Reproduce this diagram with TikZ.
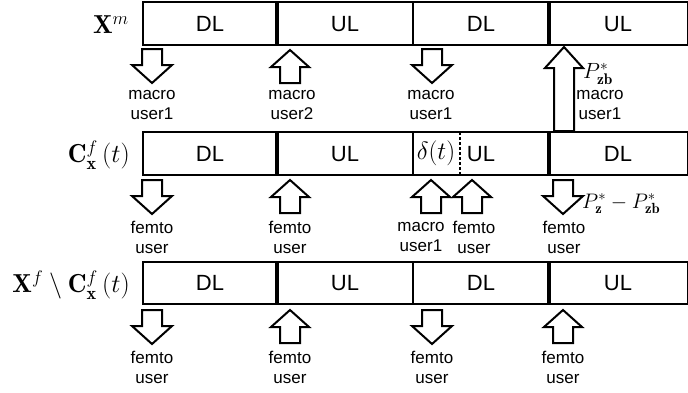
\RequirePackage{fix-cm}
\documentclass[tikz,border=0pt]{standalone}
\usepackage{fontspec}
\setsansfont{Liberation Sans}
\begin{document}
\begin{tikzpicture}[x=1pt,y=-1pt,
  frame/.style={line width=2.2pt},
  thickdiv/.style={line width=3.2pt},
  thindiv/.style={line width=1.6pt},
  dashdiv/.style={line width=2pt,dash pattern=on 3pt off 2pt},
  arrowline/.style={draw=black,fill=white,line width=2pt,line join=miter},
  cell/.style={font=\sffamily\fontsize{22}{26}\selectfont,inner sep=0pt},
  lbl/.style={font=\sffamily\fontsize{17}{20}\selectfont,align=center,inner sep=0pt},
  rowlbl/.style={font=\fontsize{26}{30}\selectfont,anchor=east,inner sep=0pt},
  plbl/.style={font=\fontsize{22}{26}\selectfont,anchor=west,inner sep=0pt},
  darr/.pic={\draw[arrowline] (-10,0) -- (10,0) -- (10,16) -- (20,16) -- (0,34) -- (-20,16) -- (-10,16) -- cycle;},
  uarr/.pic={\draw[arrowline] (0,0) -- (19,17) -- (10,17) -- (10,33) -- (-10,33) -- (-10,17) -- (-19,17) -- cycle;},
  bigarr/.pic={\draw[arrowline] (0,0) -- (19,21) -- (10,21) -- (10,84) -- (-10,84) -- (-10,21) -- (-19,21) -- cycle;}
]
\useasboundingbox (0,0) rectangle (688,392);

% ---------- row 1 ----------
\draw[frame] (143,2) rectangle (688,45);
\draw[thickdiv] (277,2) -- (277,45);
\draw[thindiv] (413,2) -- (413,45);
\draw[thickdiv] (549,2) -- (549,45);
\node[cell] (r1c1) at (210,24) {DL};
\node[cell] (r1c2) at (345,24) {UL};
\node[cell] (r1c3) at (481,24) {DL};
\node[cell] (r1c4) at (618,24) {UL};
\node[rowlbl] (r1lbl) at (129,25) {$\mathbf{X}^{m}$};

\pic (a11) at (152,49) {darr};
\pic (a12) at (290,50) {uarr};
\pic (a13) at (432,49) {darr};
\pic (a14) at (564,47) {bigarr};
\node[lbl] (l11) at (152,105) {macro\\user1};
\node[lbl] (l12) at (292,105) {macro\\user2};
\node[lbl] (l13) at (431,105) {macro\\user1};
\node[lbl] (l14) at (600,105) {macro\\user1};
\node[plbl] (p1) at (583,74) {$P_{\mathbf{zb}}^{*}$};

% ---------- row 2 ----------
\draw[frame] (143,132) rectangle (688,175);
\draw[thickdiv] (277,132) -- (277,175);
\draw[thindiv] (413,132) -- (413,175);
\draw[dashdiv] (460,132) -- (460,175);
\draw[thickdiv] (549,132) -- (549,175);
\node[cell] (r2c1) at (210,154) {DL};
\node[cell] (r2c2) at (345,154) {UL};
\node[inner sep=0pt,font=\fontsize{25}{30}\selectfont] (r2d) at (436,153) {$\delta(t)$};
\node[cell] (r2c3) at (481,154) {UL};
\node[cell] (r2c4) at (618,154) {DL};
\node[rowlbl] (r2lbl) at (130,155) {$\mathbf{C}_{\mathbf{x}}^{f}\left(t\right)$};

\pic (a21) at (152,180) {darr};
\pic (a22) at (290,180) {uarr};
\pic (a23) at (431,180) {uarr};
\pic (a24) at (472,180) {uarr};
\pic (a25) at (563,180) {darr};
\node[lbl] (l21) at (152,237) {femto\\user};
\node[lbl] (l22) at (290,237) {femto\\user};
\node[lbl] (l23) at (421,237) {macro\\user1};
\node[lbl] (l24) at (474,237) {femto\\user};
\node[lbl] (l25) at (564,237) {femto\\user};
\node[plbl,font=\fontsize{21}{25}\selectfont] (p2) at (582,204) {$P_{\mathbf{z}}^{*}-P_{\mathbf{zb}}^{*}$};

% ---------- row 3 ----------
\draw[frame] (143,262) rectangle (688,304);
\draw[thickdiv] (277,262) -- (277,304);
\draw[thindiv] (413,262) -- (413,304);
\draw[thickdiv] (549,262) -- (549,304);
\node[cell] (r3c1) at (210,283) {DL};
\node[cell] (r3c2) at (345,283) {UL};
\node[cell] (r3c3) at (481,283) {DL};
\node[cell] (r3c4) at (618,283) {UL};
\node[rowlbl] (r3lbl) at (130,285) {$\mathbf{X}^{f}\setminus\mathbf{C}_{\mathbf{x}}^{f}\left(t\right)$};

\pic (a31) at (152,310) {darr};
\pic (a32) at (290,310) {uarr};
\pic (a33) at (432,310) {darr};
\pic (a34) at (563,310) {uarr};
\node[lbl] (l31) at (152,367) {femto\\user};
\node[lbl] (l32) at (290,367) {femto\\user};
\node[lbl] (l33) at (432,367) {femto\\user};
\node[lbl] (l34) at (563,367) {femto\\user};
\end{tikzpicture}
\end{document}
